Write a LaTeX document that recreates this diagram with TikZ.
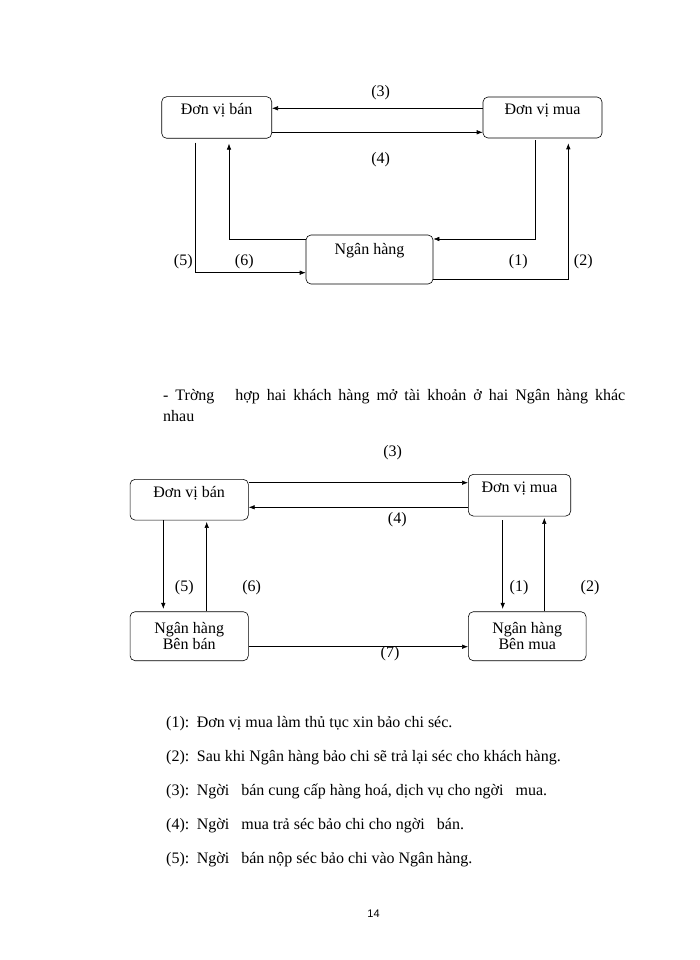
\documentclass[tikz,border=0pt]{standalone}
\usepackage{fontspec}
\setmainfont{Liberation Serif}
\newfontfamily\pagefont{Liberation Sans}
\usetikzlibrary{positioning,calc,arrows.meta}

\tikzset{
    box/.style={draw, rounded corners=5pt, inner sep=0pt, align=center, line width=0.6pt},
    oneline/.style={text height=10pt, text depth=15pt},
    num/.style={inner sep=0pt},
    arr/.style={-{Latex[length=6pt,width=4.5pt]}, line width=0.6pt},
    txt/.style={inner sep=0pt, anchor=base west}
}

\begin{document}
\begin{tikzpicture}[x=1pt, y=-1pt, font=\fontsize{16}{14}\selectfont]
    \useasboundingbox (0,0) rectangle (700,960);

    % first case: one bank
    \node[box, oneline, minimum width=110pt, minimum height=41.6pt] at (216.7,117.5) (ban) {Đơn vị bán};
    \node[box, oneline, minimum width=119pt, minimum height=41pt] at (542.5,117.5) (mua) {Đơn vị mua};
    \node[box, text height=10pt, text depth=20pt, minimum width=127pt, minimum height=49pt] at (369.5,259.5) (nh) {Ngân hàng};

    % connections
    \draw[arr] ([yshift=9.2pt]mua.west) -- ([yshift=9.2pt]ban.east);
    \draw[arr] ([yshift=-14.8pt]ban.east) -- ([yshift=-14.8pt]mua.west);
    \draw[arr, shorten <=4pt] ([xshift=-21.7pt]ban.south) |- ([yshift=-13.2pt]nh.west);
    \draw[arr, shorten >=5pt] ([yshift=20.5pt]nh.west) -| ([xshift=12.3pt]ban.south);
    \draw[arr, shorten <=2pt] ([xshift=-7.5pt]mua.south) |- ([yshift=20.5pt]nh.east);
    \draw[arr, shorten >=5pt] ([yshift=-19.5pt]nh.east) -| ([xshift=25.8pt]mua.south);

    \node[num] at (380.7,92.3) (n3) {(3)};
    \node[num] at (380.7,160) (n4) {(4)};
    \node[num] at (183.3,261.7) (n5) {(5)};
    \node[num] at (244.3,261.7) (n6) {(6)};
    \node[num] at (518.3,261.7) (n1) {(1)};
    \node[num] at (583.3,261.7) (n2) {(2)};

    % heading of second case
    \node[txt] at (163,400) (head1) {\makebox[462pt][s]{- Trờng\ \ \ hợp hai khách hàng mở tài khoản ở hai Ngân hàng khác}};
    \node[txt] at (163,421) (head2) {nhau};

    % second case: two banks
    \node[box, oneline, minimum width=118.3pt, minimum height=40.7pt] at (189.2,499.7) (ban2) {Đơn vị bán};
    \node[box, oneline, minimum width=102.4pt, minimum height=41.7pt] at (519.5,495.2) (mua2) {Đơn vị mua};
    \node[box, minimum width=118.3pt, minimum height=49pt] at (189.2,636.2) (nhb) {Ngân hàng\\Bên bán};
    \node[box, minimum width=117.7pt, minimum height=49pt] at (527.2,636.2) (nhm) {Ngân hàng\\Bên mua};

    % connections
    \draw[arr] ([yshift=17pt]ban2.east) -- ([yshift=17pt]ban2.east -| mua2.west);
    \draw[arr] ([yshift=-12.1pt]mua2.west) -- ([yshift=-12.1pt]mua2.west -| ban2.east);
    \draw[arr, shorten >=2.5pt] ([xshift=-25.9pt]ban2.south) -- ([xshift=-25.9pt]nhb.north);
    \draw[arr, shorten >=1.5pt] ([xshift=17.5pt]nhb.north) -- ([xshift=17.5pt]ban2.south);
    \draw[arr, shorten <=4pt, shorten >=2.5pt] ([xshift=-16.8pt]mua2.south) -- ([xshift=-16.8pt]mua2.south |- nhm.north);
    \draw[arr, shorten >=1.5pt] ([xshift=17.1pt]nhm.north) -- ([xshift=17.1pt]nhm.north |- mua2.south);
    \draw[arr] ([yshift=-10.5pt]nhb.east) -- ([yshift=-10.5pt]nhb.east -| nhm.west);

    \node[num] at (392.7,452.3) (m3) {(3)};
    \node[num] at (397.3,520) (m4) {(4)};
    \node[num] at (184.3,587.7) (m5) {(5)};
    \node[num] at (251.7,587.7) (m6) {(6)};
    \node[num] at (519,587.7) (m1) {(1)};
    \node[num] at (590,587.7) (m2) {(2)};
    \node[num] at (390,653.3) (m7) {(7)};

    % explanations
    \node[txt] at (166,727) (e1) {(1):};
    \node[txt] at (196.7,727) (t1) {Đơn vị mua làm thủ tục xin bảo chi séc.};
    \node[txt] at (166,761) (e2) {(2):};
    \node[txt] at (196.7,761) (t2) {Sau khi Ngân hàng bảo chi sẽ trả lại séc cho khách hàng.};
    \node[txt] at (166,795) (e3) {(3):};
    \node[txt] at (196.7,795) (t3) {Ngời\ \ \ bán cung cấp hàng hoá, dịch vụ cho ngời\ \ \ mua.};
    \node[txt] at (166,829) (e4) {(4):};
    \node[txt] at (196.7,829) (t4) {Ngời\ \ \ mua trả séc bảo chi cho ngời\ \ \ bán.};
    \node[txt] at (166,863) (e5) {(5):};
    \node[txt] at (196.7,863) (t5) {Ngời\ \ \ bán nộp séc bảo chi vào Ngân hàng.};

    \node[inner sep=0pt, font=\pagefont\fontsize{11}{13}\selectfont] at (373.5,914) (page) {14};
\end{tikzpicture}
\end{document}
